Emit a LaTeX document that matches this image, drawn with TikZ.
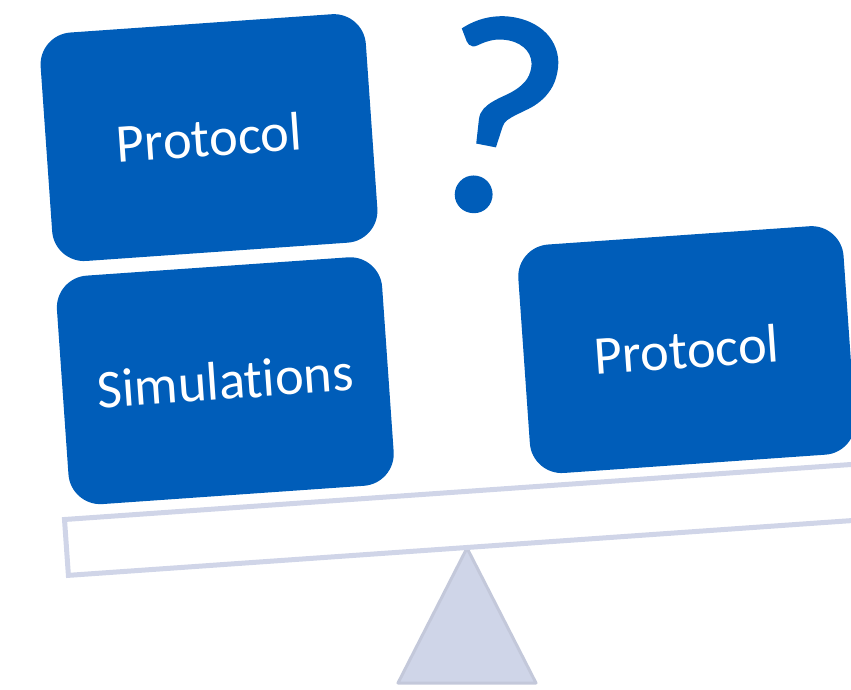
\documentclass[tikz,border=0pt]{standalone}
\usepackage{fontspec}
\setmainfont{Carlito}[Ligatures=NoCommon]
\newfontfamily\qfont{Carlito}[FakeBold=1.3]
\definecolor{boxblue}{HTML}{005DB9}
\definecolor{beamgray}{HTML}{D0D5E8}
\definecolor{fulcrumgray}{HTML}{CFD5E8}
\begin{document}
\begin{tikzpicture}[x=1pt,y=-1pt,
  box/.style={rectangle, rounded corners=32pt, fill=boxblue, text=white,
    minimum width=326pt, minimum height=229pt, inner sep=0pt, outer sep=0pt,
    rotate=4, font=\fontsize{54.5}{60}\selectfont},
  beam/.style={rectangle, draw=beamgray, fill=white, line width=5pt,
    minimum width=900pt, minimum height=56pt, inner sep=0pt, outer sep=0pt,
    rotate=4, anchor=north west},
  fulcrum/.style={fill=fulcrumgray, draw=fulcrumgray!90!black!60!fulcrumgray, line width=3pt, line join=round},
  qmark/.style={text=boxblue, inner sep=0pt, rotate=-11, font=\qfont\fontsize{285}{285}\selectfont}]
\useasboundingbox (0,0) rectangle (851,690);
\clip (0,0) rectangle (851,690);
\coordinate (apex) at (467,548);
\coordinate (baseR) at (536,683);
\coordinate (baseL) at (398,683);
\draw[fulcrum] (apex) -- (baseR) -- (baseL) -- cycle;
\node[beam] (beam) at (64.5,519.5) {};
\node[box] (p1) at (209,137.6) {Protocol};
\node[box] (sim) at (225.3,380.7) {Simulations};
\node[box] (p2) at (686.7,349.6) {Protocol};
\node[qmark] (q) at (497,116) {?};
\end{tikzpicture}
\end{document}
